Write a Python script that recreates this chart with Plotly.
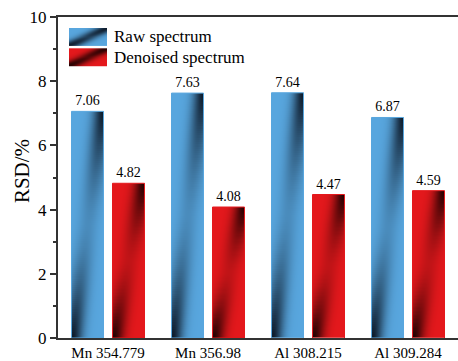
import numpy as np
import plotly.graph_objects as go

categories = ["Mn 354.779", "Mn 356.98", "Al 308.215", "Al 309.284"]
raw_values = [7.06, 7.63, 7.64, 6.87]
denoised_values = [4.82, 4.08, 4.47, 4.59]
series_names = ["Raw spectrum", "Denoised spectrum"]

FONT = "Liberation Serif, Times New Roman, serif"
BLUE_LIGHT, BLUE_DARK = "rgb(88,166,222)", "rgb(10,20,34)"
RED_LIGHT, RED_DARK = "rgb(228,24,28)", "rgb(28,0,0)"
BAR_W = 0.32
OFFSET = 0.205


def darkness(nr, nc, amp_ends=0.97, amp_mid=0.18, sigma=0.32, power=1.6):
    # rows go bottom -> top in heatmap order
    yn_top = np.linspace(1, 0, nr)[:, None]  # 0 at top, 1 at bottom
    xn = (np.arange(nc) + 0.5)[None, :] / nc
    s = xn - (1 - yn_top)
    amp = amp_mid + (amp_ends - amp_mid) * np.abs(2 * yn_top - 1) ** power
    return amp * np.exp(-(s / sigma) ** 2)


fig = go.Figure()

series = [(raw_values, -OFFSET, BLUE_LIGHT, BLUE_DARK),
          (denoised_values, OFFSET, RED_LIGHT, RED_DARK)]

for vals, off, light, dark in series:
    for i, v in enumerate(vals):
        nc, nr = 32, 110
        cx = i + off
        xe = np.linspace(cx - BAR_W / 2, cx + BAR_W / 2, nc + 1)
        ye = np.linspace(0, v, nr + 1)
        fig.add_trace(go.Heatmap(
            x=xe, y=ye, z=darkness(nr, nc), zmin=0, zmax=1,
            colorscale=[[0, light], [1, dark]], showscale=False,
            hoverinfo="skip"))

for (vals, off, light, dark), name in zip(series, series_names):
    fig.add_trace(go.Bar(
        x=[i + off for i in range(len(vals))], y=vals, width=BAR_W,
        name=name, marker=dict(color="rgba(0,0,0,0)",
                               line=dict(color=light, width=1)),
        text=[f"{v:.2f}" for v in vals], textposition="outside",
        constraintext="none",
        textfont=dict(family=FONT, size=14, color="black"),
        cliponaxis=False, showlegend=False))

# legend swatches
for k, (vals, off, light, dark) in enumerate(series):
    y0 = 1.05 if k == 0 else 0.0
    nc, nr = 38, 18
    fig.add_trace(go.Heatmap(
        x=np.linspace(0, 1, nc + 1), y=np.linspace(y0, y0 + 0.95, nr + 1),
        z=darkness(nr, nc, amp_ends=0.95, amp_mid=0.7, sigma=0.3, power=1.0),
        zmin=0, zmax=1, colorscale=[[0, light], [1, dark]], showscale=False,
        hoverinfo="skip", xaxis="x2", yaxis="y2"))

fig.add_annotation(x=0.135, y=0.938, xref="paper", yref="paper",
                   text=series_names[0], showarrow=False, xanchor="left",
                   yanchor="middle", font=dict(family=FONT, size=17, color="black"))
fig.add_annotation(x=0.135, y=0.873, xref="paper", yref="paper",
                   text=series_names[1], showarrow=False, xanchor="left",
                   yanchor="middle", font=dict(family=FONT, size=17, color="black"))
fig.add_annotation(x=-0.09, y=0.52, xref="paper", yref="paper",
                   text="RSD/%", showarrow=False, textangle=-90,
                   xanchor="center", yanchor="middle",
                   font=dict(family=FONT, size=21, color="black"))

fig.update_layout(
    width=458, height=361,
    margin=dict(l=58, r=0, t=17, b=21),
    plot_bgcolor="white", paper_bgcolor="white",
    showlegend=False,
    xaxis=dict(range=[-0.5, 3.5], tickvals=list(range(len(categories))),
               ticktext=categories, ticks="", showgrid=False, zeroline=False,
               showline=True, linecolor="#333", linewidth=2, mirror=True,
               tickfont=dict(family=FONT, size=15, color="black")),
    yaxis=dict(range=[0, 10], dtick=2, ticks="outside", ticklen=6, tickwidth=1.5,
               tickcolor="#333", showgrid=False, zeroline=False,
               showline=True, linecolor="#333", linewidth=2,
               minor=dict(dtick=1, ticks="outside", ticklen=3, tickcolor="#333"),
               tickfont=dict(family=FONT, size=17, color="black")),
    xaxis2=dict(domain=[0.0275, 0.1225], range=[0, 1], visible=False,
                anchor="y2"),
    yaxis2=dict(domain=[0.845, 0.966], range=[0, 2], visible=False,
                anchor="x2"),
)

fig.write_html("out.html", config={"displayModeBar": False},
               post_script="document.body.style.margin='0';document.body.style.overflow='hidden';")
